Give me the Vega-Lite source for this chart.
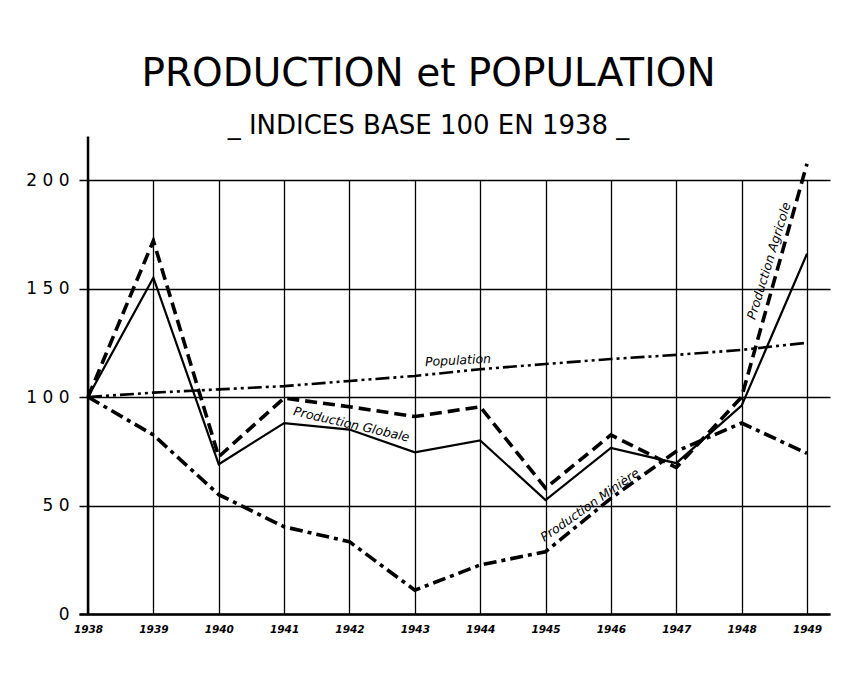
{
  "$schema": "https://vega.github.io/schema/vega-lite/v6.json",
  "autosize": "none",
  "width": 751,
  "height": 434,
  "padding": {"left": 79, "top": 180, "right": 34, "bottom": 59},
  "background": "white",
  "title": {
    "text": "PRODUCTION et POPULATION",
    "subtitle": "_ INDICES BASE 100 EN 1938 _",
    "anchor": "middle",
    "frame": "group",
    "font": "DejaVu Sans",
    "fontSize": 39,
    "fontWeight": "normal",
    "color": "black",
    "subtitleFont": "DejaVu Sans",
    "subtitleFontSize": 26,
    "subtitleColor": "black",
    "subtitlePadding": 19,
    "offset": -4,
    "dx": -26
  },
  "datasets": {
    "series": [
      {"year": 1938, "value": 100, "series": "Production Globale"},
      {"year": 1939, "value": 155, "series": "Production Globale"},
      {"year": 1940, "value": 69, "series": "Production Globale"},
      {"year": 1941, "value": 88, "series": "Production Globale"},
      {"year": 1942, "value": 85, "series": "Production Globale"},
      {"year": 1943, "value": 74.5, "series": "Production Globale"},
      {"year": 1944, "value": 80, "series": "Production Globale"},
      {"year": 1945, "value": 52.5, "series": "Production Globale"},
      {"year": 1946, "value": 76.5, "series": "Production Globale"},
      {"year": 1947, "value": 69.5, "series": "Production Globale"},
      {"year": 1948, "value": 96, "series": "Production Globale"},
      {"year": 1949, "value": 166, "series": "Production Globale"},
      {"year": 1938, "value": 100, "series": "Production Agricole"},
      {"year": 1939, "value": 172, "series": "Production Agricole"},
      {"year": 1940, "value": 72.5, "series": "Production Agricole"},
      {"year": 1941, "value": 99.5, "series": "Production Agricole"},
      {"year": 1942, "value": 95.5, "series": "Production Agricole"},
      {"year": 1943, "value": 91, "series": "Production Agricole"},
      {"year": 1944, "value": 95.5, "series": "Production Agricole"},
      {"year": 1945, "value": 58, "series": "Production Agricole"},
      {"year": 1946, "value": 82.5, "series": "Production Agricole"},
      {"year": 1947, "value": 67.5, "series": "Production Agricole"},
      {"year": 1948, "value": 100, "series": "Production Agricole"},
      {"year": 1949, "value": 207.5, "series": "Production Agricole"},
      {"year": 1938, "value": 100, "series": "Population"},
      {"year": 1939, "value": 102, "series": "Population"},
      {"year": 1940, "value": 103.5, "series": "Population"},
      {"year": 1941, "value": 105, "series": "Population"},
      {"year": 1942, "value": 107.4, "series": "Population"},
      {"year": 1943, "value": 109.7, "series": "Population"},
      {"year": 1944, "value": 112.8, "series": "Population"},
      {"year": 1945, "value": 115.2, "series": "Population"},
      {"year": 1946, "value": 117.5, "series": "Population"},
      {"year": 1947, "value": 119.4, "series": "Population"},
      {"year": 1948, "value": 121.7, "series": "Population"},
      {"year": 1949, "value": 125, "series": "Population"},
      {"year": 1938, "value": 100, "series": "Production Minière"},
      {"year": 1939, "value": 82.5, "series": "Production Minière"},
      {"year": 1940, "value": 55, "series": "Production Minière"},
      {"year": 1941, "value": 40.2, "series": "Production Minière"},
      {"year": 1942, "value": 33.3, "series": "Production Minière"},
      {"year": 1943, "value": 11, "series": "Production Minière"},
      {"year": 1944, "value": 22.6, "series": "Production Minière"},
      {"year": 1945, "value": 28.7, "series": "Production Minière"},
      {"year": 1946, "value": 53.3, "series": "Production Minière"},
      {"year": 1947, "value": 75, "series": "Production Minière"},
      {"year": 1948, "value": 88, "series": "Production Minière"},
      {"year": 1949, "value": 74, "series": "Production Minière"}
    ],
    "notes": [
      {"note": "Population", "year": 1943.66, "value": 116.8},
      {"note": "Production Globale", "year": 1942.03, "value": 87.3},
      {"note": "Production Minière", "year": 1945.68, "value": 50.2},
      {"note": "Production Agricole", "year": 1948.42, "value": 162.7}
    ],
    "axisline": [
      {"year": 1938, "lo": 0, "hi": 220}
    ]
  },
  "encoding": {
    "x": {
      "field": "year",
      "type": "quantitative",
      "scale": {"domain": [1937.862, 1949.352], "nice": false, "zero": false},
      "axis": {
        "values": [1938, 1939, 1940, 1941, 1942, 1943, 1944, 1945, 1946, 1947, 1948, 1949],
        "format": "d",
        "title": null,
        "grid": true,
        "gridColor": "black",
        "gridWidth": 1.3,
        "gridOpacity": 1,
        "ticks": false,
        "domain": true,
        "domainColor": "black",
        "domainWidth": 2.5,
        "labelFont": "DejaVu Sans",
        "labelFontStyle": "italic",
        "labelFontWeight": "bold",
        "labelFontSize": 10.5,
        "labelColor": "black",
        "labelPadding": 10,
        "labelDx": 5,
        "labelFlush": false,
        "labelAngle": 0
      }
    },
    "y": {
      "field": "value",
      "type": "quantitative",
      "scale": {"domain": [0, 200], "nice": false},
      "axis": {
        "values": [0, 50, 100, 150, 200],
        "title": null,
        "grid": true,
        "gridColor": "black",
        "gridWidth": 1.3,
        "gridOpacity": 1,
        "ticks": false,
        "domain": false,
        "labelFont": "DejaVu Sans",
        "labelFontSize": 17,
        "labelColor": "black",
        "labelPadding": 10,
        "labelExpr": "replace(datum.label, regexp('([0-9])(?=[0-9])', 'g'), '$1 ')"
      }
    }
  },
  "layer": [
    {
      "data": {"name": "axisline"},
      "mark": {"type": "rule", "color": "black", "strokeWidth": 2.5},
      "encoding": {
        "y": {"field": "lo", "type": "quantitative"},
        "y2": {"field": "hi"}
      }
    },
    {
      "data": {"name": "series"},
      "transform": [{"filter": "datum.series == 'Production Globale'"}],
      "mark": {"type": "line", "color": "black", "strokeWidth": 2.2}
    },
    {
      "data": {"name": "series"},
      "transform": [{"filter": "datum.series == 'Production Agricole'"}],
      "mark": {"type": "line", "color": "black", "strokeWidth": 3.6, "strokeDash": [12, 6]}
    },
    {
      "data": {"name": "series"},
      "transform": [{"filter": "datum.series == 'Population'"}],
      "mark": {"type": "line", "color": "black", "strokeWidth": 2.6, "strokeDash": [14, 4, 3, 4, 3, 4]}
    },
    {
      "data": {"name": "series"},
      "transform": [{"filter": "datum.series == 'Production Minière'"}],
      "mark": {"type": "line", "color": "black", "strokeWidth": 3.6, "strokeDash": [13, 5, 4, 5]}
    },
    {
      "data": {"name": "notes"},
      "transform": [{"filter": "datum.note == 'Population'"}],
      "mark": {"type": "text", "angle": -3, "font": "DejaVu Sans", "fontStyle": "italic", "fontSize": 12.5, "color": "black"},
      "encoding": {"text": {"field": "note"}}
    },
    {
      "data": {"name": "notes"},
      "transform": [{"filter": "datum.note == 'Production Globale'"}],
      "mark": {"type": "text", "angle": 13, "font": "DejaVu Sans", "fontStyle": "italic", "fontSize": 12.5, "color": "black"},
      "encoding": {"text": {"field": "note"}}
    },
    {
      "data": {"name": "notes"},
      "transform": [{"filter": "datum.note == 'Production Minière'"}],
      "mark": {"type": "text", "angle": -35, "font": "DejaVu Sans", "fontStyle": "italic", "fontSize": 12.5, "color": "black"},
      "encoding": {"text": {"field": "note"}}
    },
    {
      "data": {"name": "notes"},
      "transform": [{"filter": "datum.note == 'Production Agricole'"}],
      "mark": {"type": "text", "angle": -73, "font": "DejaVu Sans", "fontStyle": "italic", "fontSize": 12.5, "color": "black"},
      "encoding": {"text": {"field": "note"}}
    }
  ],
  "config": {
    "view": {"stroke": null}
  }
}
